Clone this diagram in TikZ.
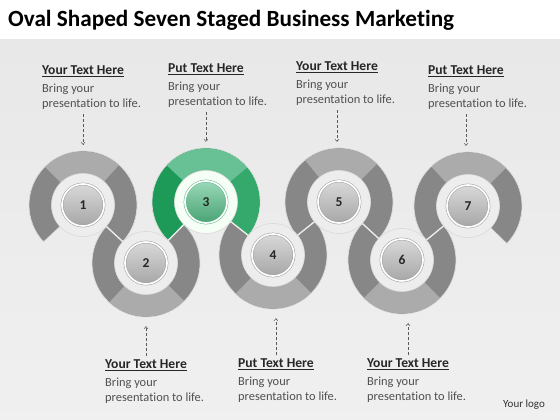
\documentclass[tikz,border=0pt]{standalone}
\usepackage{fontspec}
\setmainfont{Carlito}[Ligatures=NoCommon]
\usetikzlibrary{positioning,calc,arrows.meta}
\definecolor{ringdark}{HTML}{878787}
\definecolor{ringlight}{HTML}{ABABAB}
\definecolor{greendark}{HTML}{1D9A57}
\definecolor{greenmid}{HTML}{34A96B}
\definecolor{greenlight}{HTML}{68C194}
\definecolor{btngray}{HTML}{C4C4C4}
\definecolor{btngreen}{HTML}{56BF88}
\definecolor{bodygray}{HTML}{505050}
\tikzset{
  head/.style={font=\bfseries\fontsize{13.6}{15}\selectfont, text=black!85, inner sep=0pt},
  body/.style={font=\fontsize{12.4}{15}\selectfont, text=bodygray, align=left, inner sep=0pt},
  pointer/.style={densely dashed, line width=0.5pt, draw=black!65, -{Straight Barb[length=2.2pt,width=4pt]}},
  joint/.style={draw=white!92!black, line width=1.3pt},
  halo/.style={circle, fill=black!7, draw=black!15, line width=0.6pt, minimum size=63pt, inner sep=0pt},
  btn/.style={circle, top color=btngray!65!white, bottom color=btngray!85!black, draw=black!38, line width=0.5pt,
      double=white, double distance=1.7pt, minimum size=42pt, inner sep=0pt,
      font=\bfseries\fontsize{13.5}{13.5}\selectfont, text=black!85},
  greenbtn/.style={btn, top color=btngreen!60!white, bottom color=btngreen!85!black, draw=greendark!70},
  outer/.style={circle, minimum size=108pt, inner sep=0pt}
}
% ring piece: centre, start angle, end angle, colour
\newcommand{\band}[4]{%
  \path[fill=#4, draw=black!14, line width=0.7pt] ($(#1)+(#2:54)$) arc[start angle=#2, end angle=#3, radius=54pt]
    -- ($(#1)+(#3:31)$) arc[start angle=#3, end angle=#2, radius=31pt] -- cycle;}
\newcommand{\patch}[4]{%
  \fill[#4] ($(#1)+(#2:53.6)$) arc[start angle=#2, end angle=#3, radius=53.6pt]
    -- ($(#1)+(#3:31.4)$) arc[start angle=#3, end angle=#2, radius=31.4pt] -- cycle;}

\begin{document}
\begin{tikzpicture}[x=1pt, y=1pt]
  \useasboundingbox (0,0) rectangle (560,420);
  \fill[white] (0,0) rectangle (560,420);
  \shade[top color=black!9, middle color=black!3, bottom color=black!6] (0,0) rectangle (560,380);

  \node[anchor=west, inner sep=0pt, font=\bfseries\fontsize{23.2}{26}\selectfont] (title) at (8,400)
      {Oval Shaped Seven Staged Business Marketing};

  % ring centres
  \coordinate (c1) at (83,215);
  \coordinate (c2) at (146,157);
  \coordinate (c3) at (206,218);
  \coordinate (c4) at (273,165);
  \coordinate (c5) at (339,218);
  \coordinate (c6) at (402,160);
  \coordinate (c7) at (468,214);

  % the snake
  \band{c1}{-42.6}{223}{ringdark}
  \patch{c1}{48}{135}{ringlight}
  \band{c2}{137.4}{405.5}{ringdark}
  \patch{c2}{227}{315}{ringlight}
  \band{c3}{-38.3}{225.5}{greendark}
  \patch{c3}{-38.3}{40}{greenmid}
  \patch{c3}{40}{137}{greenlight}
  \band{c4}{141.7}{398.8}{ringdark}
  \patch{c4}{226}{315}{ringlight}
  \band{c5}{-42.6}{218.8}{ringdark}
  \patch{c5}{45}{129}{ringlight}
  \band{c6}{137.4}{399.3}{ringdark}
  \patch{c6}{225}{315}{ringlight}
  \band{c7}{-44}{219.3}{ringdark}
  \patch{c7}{45}{133}{ringlight}

  \draw[joint] (c1) -- (c2) -- (c3) -- (c4) -- (c5) -- (c6) -- (c7);

  % buttons
  \node[halo] (g1) at (c1) {};
  \node[halo] (g2) at (c2) {};
  \node[halo, fill=green!4!white] (g3) at (c3) {};
  \node[halo] (g4) at (c4) {};
  \node[halo] (g5) at (c5) {};
  \node[halo] (g6) at (c6) {};
  \node[halo] (g7) at (c7) {};
  \node[btn] (b1) at (c1) {1};
  \node[btn] (b2) at (c2) {2};
  \node[greenbtn] (b3) at (c3) {3};
  \node[btn] (b4) at (c4) {4};
  \node[btn] (b5) at (c5) {5};
  \node[btn] (b6) at (c6) {6};
  \node[btn] (b7) at (c7) {7};
  \node[outer] (r1) at (c1) {};
  \node[outer] (r2) at (c2) {};
  \node[outer] (r3) at (c3) {};
  \node[outer] (r4) at (c4) {};
  \node[outer] (r5) at (c5) {};
  \node[outer] (r6) at (c6) {};
  \node[outer] (r7) at (c7) {};

  % texts above
  \node[head, anchor=west] (h1) at (42,349) {\underline{Your Text Here}};
  \node[body, below right=7.5pt and 0pt of h1.south west] (d1) {Bring your\\presentation to life.};
  \node[head, anchor=west] (h3) at (168,351) {\underline{Put Text Here}};
  \node[body, below right=7.5pt and 0pt of h3.south west] (d3) {Bring your\\presentation to life.};
  \node[head, anchor=west] (h5) at (296,353) {\underline{Your Text Here}};
  \node[body, below right=7.5pt and 0pt of h5.south west] (d5) {Bring your\\presentation to life.};
  \node[head, anchor=west] (h7) at (428,349) {\underline{Put Text Here}};
  \node[body, below right=7.5pt and 0pt of h7.south west] (d7) {Bring your\\presentation to life.};

  % texts below
  \node[head, anchor=west] (h2) at (105,55) {\underline{Your Text Here}};
  \node[body, below right=7.5pt and 0pt of h2.south west] (d2) {Bring your\\presentation to life.};
  \node[head, anchor=west] (h4) at (238,56) {\underline{Put Text Here}};
  \node[body, below right=7.5pt and 0pt of h4.south west] (d4) {Bring your\\presentation to life.};
  \node[head, anchor=west] (h6) at (367,56) {\underline{Your Text Here}};
  \node[body, below right=7.5pt and 0pt of h6.south west] (d6) {Bring your\\presentation to life.};

  \draw[pointer, shorten <=4pt, shorten >=6pt] (d1.south -| h1.south) -- (r1.north -| h1.south);
  \draw[pointer, shorten <=4pt, shorten >=6pt] (d3.south -| h3.south) -- (r3.north -| h3.south);
  \draw[pointer, shorten <=4pt, shorten >=6pt] (d5.south -| h5.south) -- (r5.north -| h5.south);
  \draw[pointer, shorten <=4pt, shorten >=6pt] (d7.south -| h7.south) -- (r7.north -| h7.south);
  \draw[pointer, shorten <=3pt, shorten >=9pt] (h2.north) -- (r2.south -| h2.north);
  \draw[pointer, shorten <=3pt, shorten >=9pt] (h4.north) -- (r4.south -| h4.north);
  \draw[pointer, shorten <=3pt, shorten >=9pt] (h6.north) -- (r6.south -| h6.north);

  \node[anchor=west, inner sep=0pt, font=\fontsize{11}{13}\selectfont, text=black!80] (logo) at (503,15) {Your logo};
\end{tikzpicture}
\end{document}
